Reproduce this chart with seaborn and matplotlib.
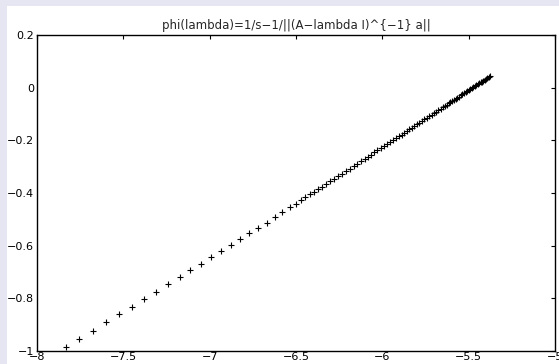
import seaborn as sns
import pandas as pd
import matplotlib.pyplot as plt
from matplotlib.patches import Rectangle

# lambda values (x) and phi(lambda) values (y)
lam = [-7.830, -7.755, -7.674, -7.599, -7.523, -7.448, -7.380, -7.311, -7.240, -7.172,
       -7.112, -7.050, -6.992, -6.934, -6.876, -6.824, -6.772, -6.720, -6.670, -6.623,
       -6.579, -6.535, -6.500, -6.471, -6.445, -6.419, -6.396, -6.373, -6.350, -6.326,
       -6.303, -6.280, -6.257, -6.234, -6.210, -6.187, -6.164, -6.144, -6.124, -6.103,
       -6.083, -6.066, -6.047, -6.028, -6.009, -5.990, -5.973, -5.956, -5.938, -5.921,
       -5.903, -5.888, -5.873, -5.857, -5.843, -5.828, -5.814, -5.799, -5.785, -5.770,
       -5.756, -5.741, -5.728, -5.715, -5.701, -5.688, -5.675, -5.663, -5.650, -5.637,
       -5.627, -5.616, -5.606, -5.595, -5.585, -5.575, -5.565, -5.555, -5.546, -5.536,
       -5.527, -5.518, -5.508, -5.499, -5.491, -5.482, -5.473, -5.465, -5.456, -5.448,
       -5.440, -5.431, -5.423, -5.415, -5.408, -5.400, -5.393, -5.385, -5.378]
phi = [-0.986, -0.954, -0.923, -0.891, -0.859, -0.832, -0.803, -0.775, -0.747, -0.720,
       -0.692, -0.670, -0.643, -0.621, -0.597, -0.576, -0.553, -0.533, -0.513, -0.492,
       -0.473, -0.455, -0.440, -0.428, -0.416, -0.405, -0.395, -0.386, -0.376, -0.366,
       -0.356, -0.346, -0.337, -0.327, -0.317, -0.307, -0.297, -0.288, -0.280, -0.271,
       -0.262, -0.254, -0.246, -0.238, -0.230, -0.222, -0.214, -0.207, -0.199, -0.192,
       -0.184, -0.178, -0.171, -0.164, -0.158, -0.152, -0.145, -0.139, -0.133, -0.127,
       -0.120, -0.114, -0.108, -0.103, -0.097, -0.091, -0.086, -0.080, -0.075, -0.069,
       -0.065, -0.060, -0.055, -0.051, -0.046, -0.042, -0.038, -0.034, -0.029, -0.025,
       -0.021, -0.017, -0.013, -0.009, -0.006, -0.002, 0.002, 0.006, 0.009, 0.013,
       0.016, 0.020, 0.023, 0.027, 0.030, 0.034, 0.037, 0.040, 0.043]

x_ticks = [-8, -7.5, -7, -6.5, -6, -5.5, -5]
x_labels = ["−8", "−7.5", "−7", "−6.5", "−6", "−5.5", "−5"]
y_ticks = [-1, -0.8, -0.6, -0.4, -0.2, 0, 0.2]
y_labels = ["−1", "−0.8", "−0.6", "−0.4", "−0.2", "0", "0.2"]
title = "phi(lambda)=1/s−1/||(A−lambda I)^{−1} a||"

sns.set_style("white")
plt.rcParams['font.family'] = ['DejaVu Sans']

df = pd.DataFrame({"lambda": lam, "phi": phi})

fig = plt.figure(figsize=(5.59, 3.64), dpi=100, facecolor="white")
# lavender frame on the left and top, like the slide background
fig.patches.append(Rectangle((0, 0), 7 / 559, 1, transform=fig.transFigure,
                             facecolor="#e6e6f2", edgecolor="none", zorder=0))
fig.patches.append(Rectangle((0, 1 - 6 / 364), 1, 6 / 364, transform=fig.transFigure,
                             facecolor="#e6e6f2", edgecolor="none", zorder=0))

ax = fig.add_axes([37 / 559, 13 / 364, 518 / 559, 316 / 364])
sns.scatterplot(data=df, x="lambda", y="phi", marker="+", color="black",
                s=20, linewidth=0.8, ax=ax)

ax.set_xlim(-8, -5)
ax.set_ylim(-1, 0.2)
ax.set_xticks(x_ticks)
ax.set_xticklabels(x_labels)
ax.set_yticks(y_ticks)
ax.set_yticklabels(y_labels)
ax.set_xlabel("")
ax.set_ylabel("")
ax.tick_params(direction="in", length=3, width=0.8, top=True, right=True,
               labelsize=8, colors="black")
ax.tick_params(axis="x", pad=1)
ax.tick_params(axis="y", pad=2)
for s in ax.spines.values():
    s.set_visible(True)
    s.set_color("black")
    s.set_linewidth(1.0)
ax.set_title(title, fontsize=8.5, pad=4)

fig.savefig("out.png", dpi=100, facecolor=fig.get_facecolor())
